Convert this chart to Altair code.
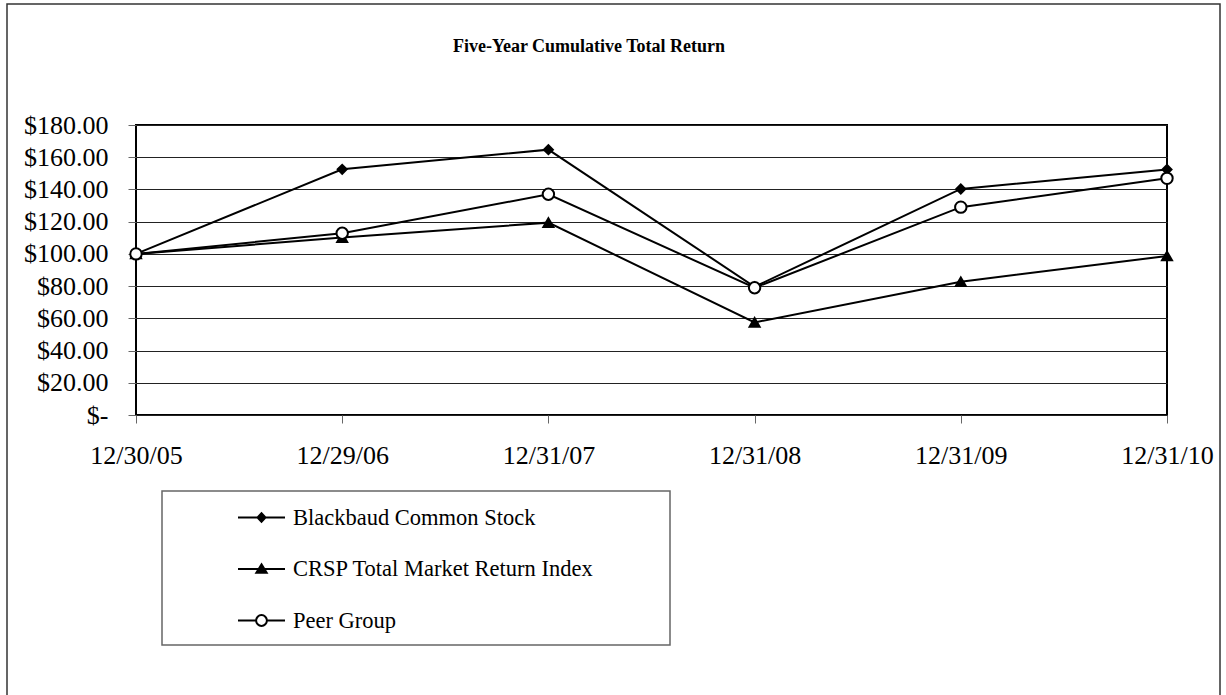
import altair as alt
import pandas as pd

dates = ["12/30/05", "12/29/06", "12/31/07", "12/31/08", "12/31/09", "12/31/10"]
series_names = ["Blackbaud Common Stock", "CRSP Total Market Return Index", "Peer Group"]
blackbaud = [100.00, 152.50, 164.70, 79.60, 140.30, 152.40]
crsp = [100.00, 110.10, 119.40, 57.50, 82.70, 98.70]
peer = [100.00, 112.80, 137.00, 79.00, 129.00, 146.90]
y_ticks = [0, 20, 40, 60, 80, 100, 120, 140, 160, 180]
title_text = "Five-Year Cumulative Total Return"

marker_shapes = ["diamond", "triangle-up", "circle"]
marker_fills = ["black", "black", "white"]
marker_strokes = ["black", "black", "black"]
marker_sizes = [81, 100, 130]

rows = []
for name, vals in zip(series_names, [blackbaud, crsp, peer]):
    for d, v in zip(dates, vals):
        rows.append({"date": d, "value": v, "series": name})
df = pd.DataFrame(rows)

FONT = "Liberation Serif"

x_enc = alt.X(
    "date:O",
    sort=dates,
    scale=alt.Scale(type="point", padding=0),
    axis=alt.Axis(
        title=None, labelAngle=0, labelFont=FONT, labelFontSize=26, labelColor="black",
        labelPadding=19, tickSize=8, tickColor="#666", tickWidth=1, domain=False, grid=False,
    ),
)
y_enc = alt.Y(
    "value:Q",
    scale=alt.Scale(domain=[0, 180], nice=False),
    axis=alt.Axis(
        title=None, values=y_ticks, labelFont=FONT, labelFontSize=26, labelColor="black",
        labelPadding=20, tickSize=8, tickColor="#666", tickWidth=1, domain=False,
        grid=True, gridColor="#222", gridWidth=1,
        labelExpr="datum.value == 0 ? '$-\u00a0\u00a0\u00a0\u00a0' : '$' + format(datum.value, '.2f')",
    ),
)

lines = alt.Chart(df).mark_line(color="black", strokeWidth=2).encode(
    x=x_enc, y=y_enc, detail="series:N"
)

point_layers = []
for name, shp, fil, sz in zip(series_names, marker_shapes, marker_fills, marker_sizes):
    point_layers.append(
        alt.Chart(df).transform_filter(alt.datum.series == name).mark_point(
            shape=shp, fill=fil, size=sz, stroke="black", strokeWidth=2, opacity=1
        ).encode(x=x_enc, y=y_enc)
    )

legend_paths = [
    "M-1,0H1M0,-0.18L0.17,0L0,0.18L-0.17,0Z",
    "M-1,0H1M0,-0.2L0.22,0.16L-0.22,0.16Z",
    "M-1,0H-0.23M0.23,0H1M0.23,0A0.23,0.23,0,1,1,-0.23,0A0.23,0.23,0,1,1,0.23,0Z",
]
legend_layer = alt.Chart(df).mark_point(size=2209, strokeWidth=2, opacity=1).encode(
    shape=alt.Shape(
        "series:N",
        scale=alt.Scale(domain=series_names, range=legend_paths),
        legend=alt.Legend(
            orient="none", legendX=101, legendY=368, title=None, symbolSize=2209,
            symbolStrokeWidth=2, symbolStrokeColor="black", labelFont=FONT, labelFontSize=22.5,
            labelColor="black", labelOffset=7, rowPadding=15.5, padding=0, labelLimit=500,
            symbolOpacity=1,
        ),
    ),
    fill=alt.Fill("series:N", scale=alt.Scale(domain=series_names, range=marker_fills), legend=None),
    stroke=alt.Stroke("series:N", scale=alt.Scale(domain=series_names, range=marker_strokes), legend=None),
).transform_filter("false")

box_df = pd.DataFrame({"k": [0]})
frame = alt.Chart(box_df).mark_rect(fill=None, stroke="#333", strokeWidth=1.5).encode(
    x=alt.value(-129), x2=alt.value(1084), y=alt.value(-121), y2=alt.value(600)
)
legend_box = alt.Chart(box_df).mark_rect(fill=None, stroke="#666", strokeWidth=1.5).encode(
    x=alt.value(26), x2=alt.value(534), y=alt.value(366), y2=alt.value(520)
)
title_df = pd.DataFrame({"t": [title_text]})
title_mark = alt.Chart(title_df).mark_text(
    font=FONT, fontSize=18, fontWeight="bold", color="black", align="center", baseline="middle"
).encode(text="t:N", x=alt.value(453), y=alt.value(-78))

chart = alt.layer(frame, legend_box, lines, *point_layers, legend_layer, title_mark).properties(
    width=1031,
    height=290,
    autosize=alt.AutoSizeParams(type="none"),
    padding={"left": 136, "top": 125, "right": 59, "bottom": 280},
    background="white",
).configure_view(stroke="black", strokeWidth=2)

chart.save("out.html", embed_options={"renderer": "svg", "actions": False})
